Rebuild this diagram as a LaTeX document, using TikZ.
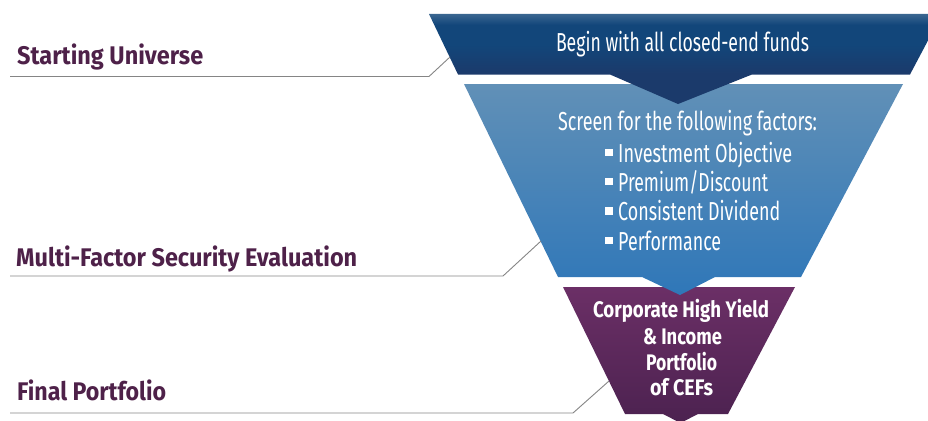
\documentclass[tikz,border=0pt]{standalone}
\usepackage{fontspec}
\usepackage{graphicx}
\setmainfont{Fira Sans}
\newfontfamily\bandfont{Fira Sans}
\newcommand\fitto[2]{\resizebox{#1}{\height}{#2}}
\definecolor{navyTop}{HTML}{3A6690}
\definecolor{navyMid}{HTML}{12467A}
\definecolor{navyBot}{HTML}{1B3A6B}
\definecolor{blueTop}{HTML}{6190B7}
\definecolor{blueMid}{HTML}{3E7FBB}
\definecolor{blueBot}{HTML}{2F77B8}
\definecolor{purpTop}{HTML}{6B2F66}
\definecolor{purpBot}{HTML}{4C2250}
\definecolor{labelPurple}{HTML}{4E2149}
\definecolor{leaderGray}{HTML}{858585}
\pgfdeclareverticalshading{navyshade}{100bp}{color(0bp)=(navyBot); color(42bp)=(navyBot); color(58bp)=(navyMid); color(69bp)=(navyMid); color(75bp)=(navyTop); color(100bp)=(navyTop)}
\tikzset{
  whitetext/.style={anchor=base, inner sep=0pt, text=white, font=\bandfont\fontsize{26}{30}\selectfont},
  bullettext/.style={anchor=base west, inner sep=0pt, text=white, font=\bandfont\fontsize{26}{30}\selectfont},
  purptext/.style={anchor=base, inner sep=0pt, text=white, font=\bandfont\bfseries\fontsize{22.5}{26}\selectfont},
  leftlabel/.style={anchor=base west, inner sep=0pt, text=labelPurple, font=\bandfont\bfseries\fontsize{25.5}{30}\selectfont},
  leader/.style={draw=leaderGray, line width=0.9pt}
}
\newcommand\sqbullet{\rule[5.8pt]{7.5pt}{7.5pt}\hspace{5.5pt}}
\begin{document}
\begin{tikzpicture}[x=1pt,y=-1pt]
\useasboundingbox (0,0) rectangle (928,420);
\begin{scope}
\clip (0,0) rectangle (928,420);
% purple band (drawn first, the blue tip lies over it)
\shade[top color=purpTop, bottom color=purpBot]
  (563,287) -- (795,287) -- (728,414) -- (698,414) -- (680.5,423) -- (663,414) -- (625,414) -- cycle;
% blue band
\shade[top color=blueTop, middle color=blueMid, bottom color=blueBot]
  (464,84) -- (903,84) -- (801,277) -- (715,277) -- (680,295) -- (642,277) -- (558,277) -- cycle;
% navy band
\shade[shading=navyshade]
  (429,14) -- (942,14) -- (910,74.5) -- (752,74.5) -- (678,104) -- (610,74.5) -- (458,74.5) -- cycle;
\end{scope}

% band texts
\node[whitetext] (begin) at (682.5,52) {\fitto{253pt}{Begin with all closed-end funds}};
\node[whitetext] (screen) at (687.5,130.7) {\fitto{259pt}{Screen for the following factors:}};
\node[bullettext] (b1) at (605,162) {\sqbullet\fitto{174pt}{Investment Objective}};
\node[bullettext] (b2) at (605,191) {\sqbullet\fitto{150pt}{Premium/Discount}};
\node[bullettext] (b3) at (605,220.5) {\sqbullet\fitto{162pt}{Consistent Dividend}};
\node[bullettext] (b4) at (605,250) {\sqbullet\fitto{103pt}{Performance}};
\node[purptext] (p1) at (681,317) {\fitto{176pt}{Corporate High Yield}};
\node[purptext] (p2) at (682.5,344) {\fitto{79pt}{\& Income}};
\node[purptext] (p3) at (681.5,370) {\fitto{71pt}{Portfolio}};
\node[purptext] (p4) at (681.5,395.5) {\fitto{63pt}{of CEFs}};

% left labels
\node[leftlabel] (lab1) at (17,65) {\fitto{186pt}{Starting Universe}};
\node[leftlabel] (lab2) at (16,266) {\fitto{341pt}{Multi-Factor Security Evaluation}};
\node[leftlabel] (lab3) at (17,400) {\fitto{149pt}{Final Portfolio}};

% leader lines
\coordinate (l1a) at (10,76.5);
\coordinate (l1b) at (429,76.5);
\coordinate (l1c) at (450,57);
\coordinate (l2a) at (10,276);
\coordinate (l2b) at (503,276);
\coordinate (l2c) at (541,241);
\coordinate (l3a) at (10,413);
\coordinate (l3b) at (573,413);
\coordinate (l3c) at (609,381);
\draw[leader] (l1a) -- (l1b) -- (l1c);
\draw[leader] (l2a) -- (l2b) -- (l2c);
\draw[leader] (l3a) -- (l3b) -- (l3c);
\end{tikzpicture}
\end{document}
